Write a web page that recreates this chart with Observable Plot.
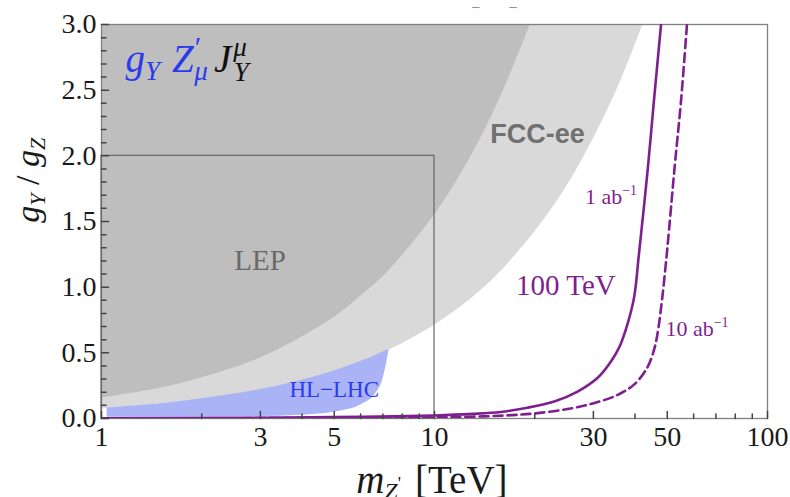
<!DOCTYPE html>
<html><head><meta charset="utf-8">
<script src="https://cdn.jsdelivr.net/npm/d3@7"></script>
<script src="https://cdn.jsdelivr.net/npm/@observablehq/plot@0.6"></script>
<style>html,body{margin:0;padding:0;background:#fff;}</style>
</head><body><div id="chart"></div>
<script>
// ---- data ----
// LEP (dark gray) excluded region: lower boundary, filled up to top
const lepX = [1, 1.5, 2, 3, 4, 5, 6, 7, 8, 10, 12, 14, 16, 18, 19.4];
const lepG = [0.155, 0.23, 0.31, 0.46, 0.62, 0.77, 0.93, 1.08, 1.24, 1.55, 1.86, 2.17, 2.48, 2.79, 3.0];
// FCC-ee (light gray) reach: lower boundary, filled up to top
const fccX = [1, 2, 3, 4, 5, 6, 7, 8, 10, 12, 15, 20, 25, 30, 35, 40, 42.3];
const fccG = [0.073, 0.145, 0.215, 0.285, 0.355, 0.425, 0.50, 0.57, 0.71, 0.85, 1.06, 1.42, 1.77, 2.13, 2.48, 2.84, 3.0];
// HL-LHC (blue) region
const hlX = [1.04, 1.5, 2, 3, 3.83, 5.05, 6.08, 6.66, 6.98, 7.14, 7.3];
const hlLow = [0.01, 0.01, 0.01, 0.015, 0.023, 0.05, 0.11, 0.19, 0.29, 0.39, 0.52];
const hlHigh = [0.08, 0.112, 0.15, 0.22, 0.28, 0.365, 0.44, 0.48, 0.505, 0.515, 0.525];
// 100 TeV, 1 ab^-1 (solid)
const solidX = [1, 3, 6, 10, 13, 15.8, 19, 22.9, 26.9, 30.9, 33.8, 36, 38, 39.8, 41.1, 43.7, 45.6, 47.9];
const solidG = [0.002, 0.006, 0.012, 0.023, 0.035, 0.05, 0.082, 0.13, 0.205, 0.31, 0.43, 0.55, 0.72, 0.93, 1.25, 1.9, 2.42, 3.0];
// 100 TeV, 10 ab^-1 (dashed)
const dashX = [1, 5, 10, 12.6, 16, 19.9, 25.1, 30.1, 35.5, 39.8, 43.6, 45.6, 46.7, 48.2, 50.0, 52.6, 55.0, 57.3];
const dashG = [0.001, 0.004, 0.008, 0.013, 0.022, 0.038, 0.072, 0.117, 0.18, 0.26, 0.39, 0.52, 0.64, 0.90, 1.29, 1.91, 2.42, 3.0];
// LEP box
const lepBox = [{x1: 1, x2: 10, y1: 0, y2: 2}];
// ticks
const xMajorTicks = [1, 3, 5, 10, 30, 50, 100];
const xTickLabels = ["1", "3", "5", "10", "30", "50", "100"];
const xMinorTicks = [2, 4, 6, 7, 8, 9, 20, 40, 60, 70, 80, 90];
const yMajorTicks = [0, 0.5, 1, 1.5, 2, 2.5, 3];
const yTickLabels = ["0.0", "0.5", "1.0", "1.5", "2.0", "2.5", "3.0"];
const yMinorTicks = [0.1,0.2,0.3,0.4,0.6,0.7,0.8,0.9,1.1,1.2,1.3,1.4,1.6,1.7,1.8,1.9,2.1,2.2,2.3,2.4,2.6,2.7,2.8,2.9];
// labels (positions in data units)
const labelLEP = [{x: 2.995, y: 1.127, t: "LEP"}];
const labelFCC = [{x: 20.4, y: 2.10, t: "FCC-ee"}];
const labelHL = [{x: 5.0, y: 0.16, t: "HL\u2212LHC"}];
const labelTeV = [{x: 24.8, y: 0.937, t: "100 TeV"}];
const labelLumi = [{x: 33.9, y: 1.63, t: "1 ab^-1"}, {x: 61.4, y: 0.625, t: "10 ab^-1"}];
const labelFormula = [{x: 1.181, y: 2.635, t: "g_Y Z'_mu J^mu_Y"}];
const labelTopDash = [{x: 13.3, y: 3.13, t: "\u2212"}, {x: 17.2, y: 3.13, t: "\u2212"}];
const xAxisLabel = "m_Z' [TeV]";
const yAxisLabel = "g_Y / g_Z";

const purple = "#7f1f8f", blue = "#2b3bec", serif = "Liberation Serif, Times New Roman, serif";

const tickShape = {draw(ctx, l) { ctx.moveTo(0, 0); ctx.lineTo(0, -l); }};
const zip = (xs, ys) => xs.map((x, i) => ({x, y: ys[i]}));

const svg = Plot.plot({
  width: 790, height: 497,
  marginLeft: 101, marginRight: 23, marginTop: 24, marginBottom: 79,
  style: {fontFamily: serif, background: "white", overflow: "visible", color: "#222"},
  x: {type: "log", domain: [1, 100]},
  y: {domain: [0, 3]},
  marks: [
    Plot.areaY(zip(fccX, fccG), {x: "x", y1: "y", y2: 3, fill: "#d9d9d9", curve: "catmull-rom", clip: true}),
    Plot.areaY(zip(lepX, lepG), {x: "x", y1: "y", y2: 3, fill: "#bebebe", curve: "catmull-rom", clip: true}),
    Plot.areaY(hlX.map((x, i) => ({x, lo: hlLow[i], hi: hlHigh[i]})), {x: "x", y1: "lo", y2: "hi", fill: "#aab3f6", curve: "monotone-x"}),
    Plot.frame({stroke: "#808080", strokeWidth: 1.3}),
    Plot.rect(lepBox, {x1: "x1", x2: "x2", y1: "y1", y2: "y2", fill: "none", stroke: "#666", strokeWidth: 1.2}),
    Plot.line(zip(solidX, solidG), {x: "x", y: "y", stroke: purple, strokeWidth: 2.6, curve: "catmull-rom", clip: true}),
    Plot.line(zip(dashX, dashG), {x: "x", y: "y", stroke: purple, strokeWidth: 2.6, strokeDasharray: "9,5", curve: "catmull-rom", clip: true}),
    // inward ticks
    Plot.vector(xMajorTicks, {x: d => d, y: 0, length: 7, rotate: 0, anchor: "start", shape: tickShape, stroke: "#444"}),
    Plot.vector(xMinorTicks, {x: d => d, y: 0, length: 4.5, rotate: 0, anchor: "start", shape: tickShape, stroke: "#444"}),
    Plot.vector(yMajorTicks, {x: 1, y: d => d, length: 7, rotate: 90, anchor: "start", shape: tickShape, stroke: "#444"}),
    Plot.vector(yMinorTicks, {x: 1, y: d => d, length: 4.5, rotate: 90, anchor: "start", shape: tickShape, stroke: "#444"}),
    Plot.axisX({ticks: xMajorTicks, tickSize: 0, tickPadding: 8, fontSize: 28, label: null,
      tickFormat: d => xTickLabels[xMajorTicks.indexOf(d)], fill: "#1a1a1a"}),
    Plot.axisY({ticks: yMajorTicks, tickSize: 0, tickPadding: 5, fontSize: 28, label: null,
      tickFormat: d => yTickLabels[yMajorTicks.indexOf(d)], fill: "#1a1a1a"}),
    // labels
    Plot.text(labelLEP, {x: "x", y: "y", text: "t", fontSize: 29, fill: "#696969", lineAnchor: "bottom"}),
    Plot.text(labelFCC, {x: "x", y: "y", text: "t", fontSize: 27, fontWeight: "bold", fontFamily: "Liberation Sans, Arial, sans-serif", fill: "#707070", lineAnchor: "bottom"}),
    Plot.text(labelHL, {x: "x", y: "y", text: "t", fontSize: 23, fill: blue, lineAnchor: "bottom"}),
    Plot.text(labelTeV, {x: "x", y: "y", text: "t", fontSize: 29, fill: purple, lineAnchor: "bottom"}),
    Plot.text(labelLumi, {x: "x", y: "y", text: "t", fontSize: 22, fill: purple, lineAnchor: "bottom"}),
    Plot.text(labelFormula, {x: "x", y: "y", text: "t", fontSize: 39, textAnchor: "start", lineAnchor: "bottom"}),
    Plot.text(labelTopDash, {x: "x", y: "y", text: "t", fontSize: 16, fill: "#b060c0"}),
    Plot.text([xAxisLabel], {x: 9.82, frameAnchor: "bottom", dy: 74, text: d => d, fontSize: 39, fill: "#1a1a1a", lineAnchor: "bottom"}),
    Plot.text([yAxisLabel], {frameAnchor: "left", y: 1.49, dx: -63, rotate: -90, text: d => d, fontSize: 34, fill: "#1a1a1a", lineAnchor: "bottom"})
  ]
});

// rich text (sub/superscripts)
const rich = new Map([
  ["1 ab^-1", [{t: "1 ab"}, {t: "\u22121", s: 14, dy: -9}]],
  ["10 ab^-1", [{t: "10 ab"}, {t: "\u22121", s: 14, dy: -9}]],
  ["g_Y Z'_mu J^mu_Y", [
    {t: "g", i: 1, fill: blue},
    {t: "Y", i: 1, s: 27, fill: blue, dy: 8},
    {t: "Z", i: 1, fill: blue, dx: 12, dy: -8},
    {t: "\u2032", s: 30, fill: blue, dx: 1, dy: -15},
    {t: "\u03bc", i: 1, s: 27, fill: blue, dx: -7, dy: 23},
    {t: "J", i: 1, fill: "#111", dx: 6, dy: -8},
    {t: "\u03bc", i: 1, s: 27, fill: "#111", dx: 2, dy: -16},
    {t: "Y", i: 1, s: 27, fill: "#111", dx: -13, dy: 25}
  ]],
  ["m_Z' [TeV]", [
    {t: "m", i: 1},
    {t: "Z", i: 1, s: 24, dy: 6},
    {t: "'", s: 18, dy: -9},
    {t: "[TeV]", dx: 14, dy: 3}
  ]],
  ["g_Y / g_Z", [
    {t: "g", i: 1},
    {t: "Y", i: 1, s: 22, dy: 6},
    {t: " / ", dy: -6},
    {t: "g", i: 1},
    {t: "Z", i: 1, s: 22, dy: 6}
  ]]
]);
svg.querySelectorAll("text").forEach(el => {
  const parts = rich.get(el.textContent);
  if (!parts) return;
  el.textContent = "";
  for (const p of parts) {
    const ts = document.createElementNS("http://www.w3.org/2000/svg", "tspan");
    ts.textContent = p.t;
    if (p.i) ts.setAttribute("font-style", "italic");
    if (p.s) ts.setAttribute("font-size", p.s);
    if (p.fill) ts.setAttribute("fill", p.fill);
    if (p.dx) ts.setAttribute("dx", p.dx);
    if (p.dy) ts.setAttribute("dy", p.dy);
    el.appendChild(ts);
  }
  el.setAttribute("style", "white-space:pre");
});
document.getElementById("chart").appendChild(svg);
</script>
</body></html>
